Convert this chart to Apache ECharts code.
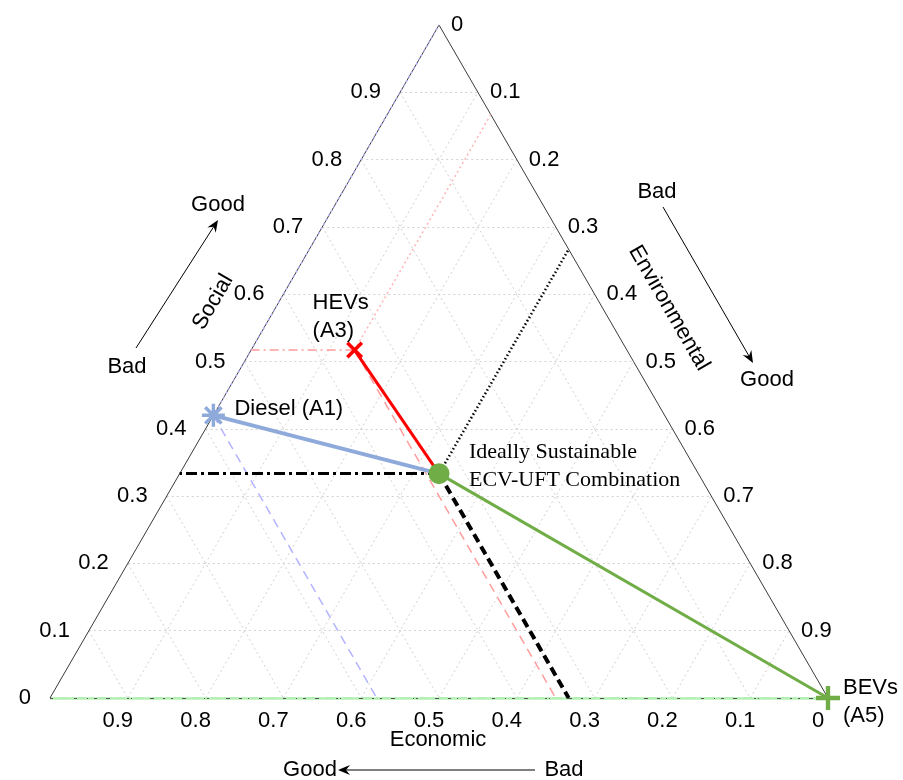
<!DOCTYPE html>
<html><head><meta charset="utf-8">
<script src="https://cdn.jsdelivr.net/npm/echarts@6/dist/echarts.min.js"></script>
<style>html,body{margin:0;padding:0;background:#fff}#c{width:903px;height:780px}</style>
</head><body><div id="c"></div>
<script>
// ---- data (ternary scores: economic, social, environmental) ----
const alternatives = ['Diesel (A1)', 'HEVs (A3)', 'BEVs (A5)'];
const altLabels = ['Diesel (A1)', 'HEVs\n(A3)', 'BEVs\n(A5)'];
const economicScores = [0.58, 0.35, 0.0];
const socialScores = [0.42, 0.517, 0.0];
const environmentalScores = [0.0, 0.133, 1.0];
const idealLabel = 'Ideally Sustainable\nECV-UFT Combination';
const idealScores = [1/3, 1/3, 1/3];
const tickValues = [0, 0.1, 0.2, 0.3, 0.4, 0.5, 0.6, 0.7, 0.8, 0.9];
const tickLabels = ['0', '0.1', '0.2', '0.3', '0.4', '0.5', '0.6', '0.7', '0.8', '0.9'];
const gridValues = [0.1, 0.2, 0.3, 0.4, 0.5, 0.6, 0.7, 0.8, 0.9];

// ---- helpers ----
const H = Math.sqrt(3) / 2;
function tern(e, s, v) { return [v + s / 2, s * H]; }
const FONT = 'Liberation Sans, Arial, sans-serif';
const SERIF = 'Liberation Serif, Times New Roman, serif';

function seg(a, b) { return { coords: [a, b] }; }
function linesSeries(data, style, z) {
  return { type: 'lines', coordinateSystem: 'cartesian2d', silent: true, z: z || 2, clip: false,
    polyline: false, data: data, lineStyle: Object.assign({ opacity: 1, curveness: 0 }, style) };
}
function guideSegs(e, s, v) {
  return {
    social: seg(tern(e, s, v), tern(1 - s, s, 0)),
    econ: seg(tern(e, s, v), tern(e, 0, 1 - e)),
    env: seg(tern(e, s, v), tern(0, 1 - v, v))
  };
}

const gridSegs = [];
gridValues.forEach(k => {
  gridSegs.push(seg(tern(1 - k, k, 0), tern(0, k, 1 - k)));   // social
  gridSegs.push(seg(tern(k, 1 - k, 0), tern(k, 0, 1 - k)));   // economic
  gridSegs.push(seg(tern(1 - k, 0, k), tern(0, 1 - k, k)));   // environmental
});

const pts = alternatives.map((n, i) => tern(economicScores[i], socialScores[i], environmentalScores[i]));
const idealPt = tern(idealScores[0], idealScores[1], idealScores[2]);
const gIdeal = guideSegs(idealScores[0], idealScores[1], idealScores[2]);
const gD = guideSegs(economicScores[0], socialScores[0], environmentalScores[0]);
const gH = guideSegs(economicScores[1], socialScores[1], environmentalScores[1]);
const gB = guideSegs(economicScores[2], socialScores[2], environmentalScores[2]);

const PINK = '#ff9c9c', LBLUE = '#b3b3ff', BLUE = '#8eaadb', GREEN = '#70ad47', LGREEN = '#b4f0b4';

// filled bar-shaped marker paths
function bar(angleDeg, half, w) {
  const a = angleDeg * Math.PI / 180, c = Math.cos(a), s = Math.sin(a);
  const p = [[-half, -w], [half, -w], [half, w], [-half, w]].map(([x, y]) => [(x * c - y * s).toFixed(2), (x * s + y * c).toFixed(2)]);
  return 'M' + p.map(q => q.join(',')).join('L') + 'Z';
}
const plusPath = 'path://' + bar(0, 11, 2) + bar(90, 11, 2);
const crossPath = 'path://' + bar(45, 10, 1.7) + bar(135, 10, 1.7);
const starPath = 'path://' + bar(0, 10, 1.5) + bar(90, 10, 1.5) + bar(45, 10, 1.5) + bar(135, 10, 1.5);

function marker(pt, symbol, size, color, z) {
  return { type: 'scatter', z: z, silent: true, clip: false, data: [pt], symbol: symbol, symbolSize: size,
    symbolKeepAspect: true, itemStyle: { color: color, opacity: 1 } };
}
function tickSeries(data, label) {
  return { type: 'scatter', silent: true, clip: false, symbolSize: 0, z: 10, itemStyle: { opacity: 1 }, data: data,
    label: Object.assign({ show: true, formatter: p => p.value[2], fontSize: 22, fontFamily: FONT, color: '#000' }, label) };
}

const series = [
  linesSeries(gridSegs, { color: '#d2d2d2', width: 1, type: [2, 3] }, 1),
  // bottom edge
  linesSeries([seg(tern(1, 0, 0), tern(0, 0, 1))], { color: LGREEN, width: 2.5, type: 'solid' }, 2),
  linesSeries([seg(tern(1, 0, 0), tern(0, 0, 1))], { color: '#555', width: 1.2, type: [5, 6] }, 3),
  // left and right edges
  linesSeries([seg(tern(1, 0, 0), tern(0, 1, 0)), seg(tern(0, 1, 0), tern(0, 0, 1))], { color: '#3a3a3a', width: 1, type: 'solid' }, 3),
  // Diesel guides
  linesSeries([gD.econ], { color: LBLUE, width: 1.5, type: [9, 6] }, 4),
  linesSeries([gD.env], { color: LBLUE, width: 1.5, type: [2, 3] }, 4),
  // HEV guides
  linesSeries([gH.social], { color: PINK, width: 1.5, type: [9, 4, 2, 4] }, 4),
  linesSeries([gH.econ], { color: PINK, width: 1.5, type: [9, 6] }, 4),
  linesSeries([gH.env], { color: '#ffb4b4', width: 1.5, type: [2, 3] }, 4),
  // BEV guide
  linesSeries([gB.social], { color: LGREEN, width: 2, type: [9, 4, 2, 4] }, 4),
  // ideal guides
  linesSeries([gIdeal.social], { color: '#000', width: 3, type: [11, 4, 3, 4] }, 5),
  linesSeries([gIdeal.econ], { color: '#000', width: 4, type: [9, 5] }, 5),
  linesSeries([gIdeal.env], { color: '#000', width: 2.5, type: [1.5, 2.5] }, 5),
  // connections to ideal
  linesSeries([seg(pts[0], idealPt)], { color: BLUE, width: 4, type: 'solid' }, 6),
  linesSeries([seg(pts[1], idealPt)], { color: '#ff0000', width: 3, type: 'solid' }, 6),
  linesSeries([seg(pts[2], idealPt)], { color: GREEN, width: 3, type: 'solid' }, 6),
  // markers
  marker(pts[0], starPath, 23, BLUE, 8),
  marker(pts[1], crossPath, 17, '#ff0000', 8),
  marker(pts[2], plusPath, 24, GREEN, 8),
  marker(idealPt, 'circle', 21, GREEN, 9),
  // tick labels
  tickSeries(tickValues.map((t, i) => [...tern(1 - t, t, 0), tickLabels[i]]), { position: 'left', distance: 19 }),
  tickSeries(tickValues.map((t, i) => [...tern(0, 1 - t, t), tickLabels[i]]), { position: 'right', distance: 12 }),
  tickSeries(tickValues.map((t, i) => [...tern(t, 0, 1 - t), tickLabels[i]]), { position: 'bottom', distance: 12, offset: [-10, 0] })
];

const chart = echarts.init(document.getElementById('c'), null, { renderer: 'canvas' });
chart.setOption({
  animation: false,
  backgroundColor: '#fff',
  grid: { left: 50, right: 75, top: 25, bottom: 82 },
  xAxis: { type: 'value', min: 0, max: 1, show: false },
  yAxis: { type: 'value', min: 0, max: H, show: false },
  series: series
});

function txt(x, y, text, opts) {
  return Object.assign({ type: 'text', x: x, y: y, z: 100, silent: true,
    style: Object.assign({ text: text, font: '22px ' + FONT, fill: '#000', align: 'center', verticalAlign: 'middle', lineHeight: 28 }, (opts && opts.style) || {}) },
    opts && opts.rotation !== undefined ? { rotation: opts.rotation } : {});
}
function arrow(x1, y1, x2, y2) {
  const dx = x2 - x1, dy = y2 - y1, L = Math.hypot(dx, dy), ux = dx / L, uy = dy / L, px = -uy, py = ux;
  const len = 12, w = 5, back = 8;
  return [
    { type: 'line', z: 100, silent: true, shape: { x1: x1, y1: y1, x2: x2 - ux * back, y2: y2 - uy * back }, style: { stroke: '#000', lineWidth: 1 } },
    { type: 'polygon', z: 100, silent: true, shape: { points: [
      [x2, y2], [x2 - ux * len + px * w, y2 - uy * len + py * w], [x2 - ux * back, y2 - uy * back], [x2 - ux * len - px * w, y2 - uy * len - py * w]] },
      style: { fill: '#000' } }
  ];
}

const P = pts.map(p => chart.convertToPixel({ gridIndex: 0 }, p));
const PI = chart.convertToPixel({ gridIndex: 0 }, idealPt);
const graphics = [
  txt(P[0][0] + 21, P[0][1] - 6, altLabels[0], { style: { align: 'left' } }),
  txt(P[1][0] - 42, P[1][1] - 33, altLabels[1], { style: { align: 'left' } }),
  txt(P[2][0] + 15, P[2][1] + 4, altLabels[2], { style: { align: 'left' } }),
  txt(PI[0] + 30, PI[1] - 7, idealLabel, { style: { align: 'left', font: '22px ' + SERIF } }),
  txt(213, 302, 'Social', { rotation: Math.PI / 3 }),
  txt(669, 308, 'Environmental', { rotation: -Math.PI / 3 }),
  txt(438, 740, 'Economic'),
  txt(218, 205, 'Good'), txt(127, 367, 'Bad'),
  txt(657, 192, 'Bad'), txt(767, 380, 'Good'),
  txt(310, 770, 'Good'), txt(564, 770, 'Bad'),
  ...arrow(136, 348, 218, 220),
  ...arrow(663, 207, 753, 363),
  ...arrow(535, 770, 338, 770)
];
chart.setOption({ graphic: graphics });
</script>
</body></html>
